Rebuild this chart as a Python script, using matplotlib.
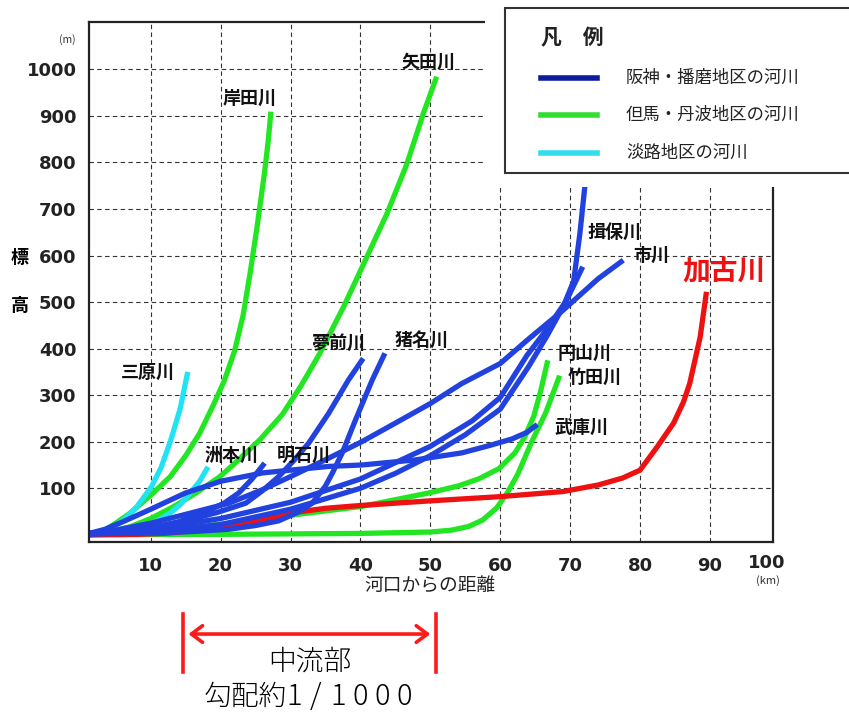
import matplotlib
matplotlib.use('Agg')
import matplotlib.pyplot as plt
import matplotlib.transforms as mtransforms
from matplotlib.patches import Rectangle, FancyArrowPatch
from matplotlib.lines import Line2D

plt.rcParams['font.family'] = ['Noto Sans CJK JP', 'DejaVu Sans']

# ---------------- data ----------------
x_ticks = [10, 20, 30, 40, 50, 60, 70, 80, 90]
x_last_tick = 100
y_ticks = [100, 200, 300, 400, 500, 600, 700, 800, 900, 1000]

legend_labels = ['阪神・播磨地区の河川', '但馬・丹波地区の河川', '淡路地区の河川']

# 淡路 (cyan)
mihara_x = [1.2, 2.7, 4.5, 6.1, 8.0, 10.1, 11.5, 12.8, 14.2, 15.3]
mihara_y = [0, 4, 15, 32, 60, 103, 145, 200, 270, 350]
sumoto_x = [1.2, 5.0, 7.5, 9.4, 11.2, 12.8, 14.3, 15.6, 17.0, 18.2]
sumoto_y = [0, 5, 11, 20, 32, 47, 66, 89, 115, 146]

# 但馬・丹波 (green)
kishida_x = [1.2, 2.7, 5.0, 7.0, 10.0, 12.8, 15.0, 17.0, 19.0, 20.5, 22.0, 23.2, 24.2, 25.2, 26.3, 26.8, 27.2]
kishida_y = [0, 4, 25, 46, 85, 125, 170, 218, 280, 330, 395, 470, 560, 660, 780, 845, 909]
yada_x = [1.2, 4.0, 7.0, 10.0, 13.2, 16.5, 19.9, 22.5, 25.6, 28.8, 31.5, 34.2, 37.6, 40.4, 43.8, 46.6, 49.0, 50.9]
yada_y = [0, 6, 17, 35, 60, 90, 125, 160, 204, 258, 320, 390, 490, 580, 690, 795, 905, 984]
maruyama_x = [1.2, 10.0, 21.3, 30.0, 40.2, 49.8, 54.0, 56.9, 59.8, 62.1, 63.5, 64.8, 65.8, 66.8]
maruyama_y = [0, 8, 25, 42, 61, 90, 105, 120, 142, 176, 210, 255, 310, 375]
takeda_x = [1.2, 20.0, 40.0, 50.0, 53.0, 55.5, 57.5, 59.5, 61.0, 62.5, 64.5, 66.5, 68.5]
takeda_y = [0, 1, 3, 6, 10, 18, 32, 58, 90, 130, 200, 262, 342]

# 阪神・播磨 (blue)
yumesaki_x = [1.2, 5.0, 10.0, 15.0, 19.5, 23.6, 26.0, 28.3, 30.5, 32.6, 35.5, 38.3, 40.4]
yumesaki_y = [3, 7, 15, 30, 48, 68, 95, 125, 160, 197, 262, 333, 379]
ina_x = [1.2, 10.0, 16.0, 21.2, 25.0, 28.3, 31.0, 33.1, 35.0, 36.0, 37.4, 39.3, 41.7, 43.5]
ina_y = [2, 4, 7, 12, 20, 30, 48, 68, 105, 133, 176, 247, 333, 390]
akashi_x = [1.2, 5.0, 8.0, 11.0, 14.0, 18.0, 20.5, 22.6, 24.5, 26.3]
akashi_y = [2, 5, 10, 18, 28, 50, 68, 90, 120, 154]
muko_x = [1.2, 3.5, 6.0, 10.0, 15.0, 20.0, 26.0, 30.7, 35.5, 40.2, 47.9, 54.5, 58.5, 61.7, 63.8, 65.3]
muko_y = [3, 12, 28, 55, 90, 115, 133, 140, 147, 150, 161, 176, 192, 206, 220, 237]
ichikawa_x = [1.2, 5.0, 10.0, 15.0, 21.2, 26.0, 30.7, 35.5, 40.2, 45.0, 50.0, 54.5, 60.0, 64.0, 68.8, 74.0, 77.6]
ichikawa_y = [3, 10, 25, 44, 68, 97, 130, 165, 200, 240, 282, 325, 368, 420, 480, 550, 590]
ibo_x = [1.2, 10.0, 20.0, 30.0, 40.0, 45.0, 50.0, 55.0, 60.0, 64.0, 66.6, 69.0, 70.5, 71.4, 72.1, 72.7]
ibo_y = [2, 6, 22, 55, 100, 132, 170, 215, 270, 360, 425, 490, 545, 648, 748, 840]
other_x = [1.2, 10.0, 20.0, 30.0, 40.0, 50.0, 56.0, 60.0, 63.8, 66.6, 69.5, 71.8]
other_y = [3, 12, 35, 70, 120, 190, 245, 295, 385, 440, 504, 576]

# 加古川 (red)
kako_x = [1.2, 8.0, 12.0, 17.0, 21.0, 25.0, 30.5, 35.0, 40.0, 50.0, 60.0, 69.0, 74.0, 77.5, 80.0, 82.5, 84.8, 86.2, 87.1, 88.6, 89.5]
kako_y = [0, 1, 3, 10, 17, 30, 48, 57, 63, 73, 82, 93, 107, 122, 139, 190, 240, 285, 325, 425, 522]

blue_rivers = [(yumesaki_x, yumesaki_y), (ina_x, ina_y), (akashi_x, akashi_y), (muko_x, muko_y),
               (ichikawa_x, ichikawa_y), (other_x, other_y), (ibo_x, ibo_y)]
green_rivers = [(kishida_x, kishida_y), (yada_x, yada_y), (maruyama_x, maruyama_y), (takeda_x, takeda_y)]
cyan_rivers = [(mihara_x, mihara_y), (sumoto_x, sumoto_y)]

label_names = ['三原川', '岸田川', '矢田川', '洲本川', '明石川', '夢前川', '猪名川',
               '揖保川', '市川', '円山川', '竹田川', '武庫川']
label_pos = [(9.6, 350), (24.2, 938), (49.7, 1015), (21.6, 171), (31.9, 171), (36.9, 412),
             (48.8, 418), (76.4, 650), (81.6, 601), (72.0, 390), (73.5, 339), (71.6, 231)]

midstream_range = (14.6, 50.8)
gradient_prefix = '勾配約'
gradient_value = '1/1000'

# ---------------- style ----------------
BLUE = '#2142de'
GREEN = '#22e622'
CYAN = '#22e3f2'
RED = '#ee1111'
LW = 3.8

fig = plt.figure(figsize=(8.49, 7.14), dpi=100)
ax = fig.add_axes([0.1048, 0.2413, 0.8053, 0.7275])
ax.set_xlim(1.17, 98.97)
ax.set_ylim(-14.8, 1101)

ax.set_xticks(x_ticks)
ax.set_yticks(y_ticks)
ax.grid(True, color='#333333', linestyle=(0, (4, 3)), linewidth=0.8)
ax.set_axisbelow(True)
ax.tick_params(length=0, labelsize=13, pad=9)
ax.tick_params(axis='x', pad=11)
for lab in ax.get_xticklabels() + ax.get_yticklabels():
    lab.set_fontfamily('DejaVu Sans')
    lab.set_fontweight('bold')
    lab.set_color('#222222')
for sp in ax.spines.values():
    sp.set_linewidth(1.6)
    sp.set_color('#222222')

kw = dict(linewidth=LW, solid_capstyle='butt', solid_joinstyle='round')
for xs, ys in green_rivers:
    ax.plot(xs, ys, color=GREEN, **kw)
for xs, ys in cyan_rivers:
    ax.plot(xs, ys, color=CYAN, **kw)
ax.plot(kako_x, kako_y, color=RED, **kw)
for xs, ys in blue_rivers:
    ax.plot(xs, ys, color=BLUE, **kw)

for name, (lx, ly) in zip(label_names, label_pos):
    ax.text(lx, ly, name, fontsize=13, fontweight='bold', ha='center', va='center', color='#111111')
ax.text(92.0, 564, '加古川', fontsize=20, fontweight='bold', ha='center', va='center', color=RED)

# last tick label "100" and units
ax.text(98.1, -60, str(x_last_tick), fontsize=13, fontweight='bold', family='DejaVu Sans',
        ha='center', va='center', color='#222222', clip_on=False)
fig.text(0.9046, 0.187, '(km)', fontsize=8, ha='center', va='center', color='#333333')
fig.text(0.079, 0.944, '(m)', fontsize=7.5, ha='center', va='center', color='#333333')
fig.text(0.0236, 0.6387, '標', fontsize=13, fontweight='bold', ha='center', va='center')
fig.text(0.0236, 0.5728, '高', fontsize=13, fontweight='bold', ha='center', va='center')
fig.text(0.507, 0.181, '河口からの距離', fontsize=13.5, ha='center', va='center', color='#222222')

# white box covering top-right plot area
fig.patches.append(Rectangle((0.5713, 0.7381), 0.43, 0.27, transform=fig.transFigure,
                             facecolor='white', edgecolor='none', zorder=10))
# legend box
fig.patches.append(Rectangle((0.5948, 0.7577), 0.42, 0.2311, transform=fig.transFigure,
                             facecolor='white', edgecolor='#333333', linewidth=1.5, zorder=11))
fig.text(0.637, 0.9468, '凡　例', fontsize=15, fontweight='bold', ha='left', va='center',
         color='#222222', zorder=12)
leg_cols = ['#0c1c9c', '#33dd33', '#33ddee']
leg_y = [0.8908, 0.8389, 0.7857]
for col, yy, txt in zip(leg_cols, leg_y, legend_labels):
    fig.lines.append(Line2D([0.637, 0.703], [yy, yy], transform=fig.transFigure,
                            color=col, linewidth=4, zorder=12))
    fig.text(0.7373, yy, txt, fontsize=12.5, ha='left', va='center', color='#222222', zorder=12)

# midstream annotation
btr = mtransforms.blended_transform_factory(ax.transData, fig.transFigure)
for xv in midstream_range:
    ax.add_line(Line2D([xv, xv], [0.0588, 0.1401], transform=btr, color='#ff1a1a',
                       linewidth=2.6, clip_on=False))
arr = FancyArrowPatch((midstream_range[0] + 0.4, 0.1120), (midstream_range[1] - 0.4, 0.1120),
                      transform=btr, arrowstyle='<->,head_length=8,head_width=6',
                      color='#ff1a1a', linewidth=2.6, mutation_scale=1, clip_on=False)
ax.add_patch(arr)
mid = (midstream_range[0] + midstream_range[1]) / 2
ax.text(mid, 0.0728, '中流部', transform=btr, fontsize=20, fontweight='light',
        ha='center', va='center', clip_on=False)
# gradient text: prefix then evenly spaced characters (wide spacing as in the original)
ftr = fig.transFigure
ax.text(0.3385, 0.0238, gradient_prefix, transform=ftr, fontsize=20, fontweight='light',
        ha='right', va='center', clip_on=False)
char_step = 22.0 / 849
for i, ch in enumerate(gradient_value):
    ax.text(0.3460 + i * char_step, 0.0238, ch, transform=ftr, fontsize=21, fontweight='light',
            ha='center', va='center', clip_on=False)

fig.savefig('out.png', dpi=100)
